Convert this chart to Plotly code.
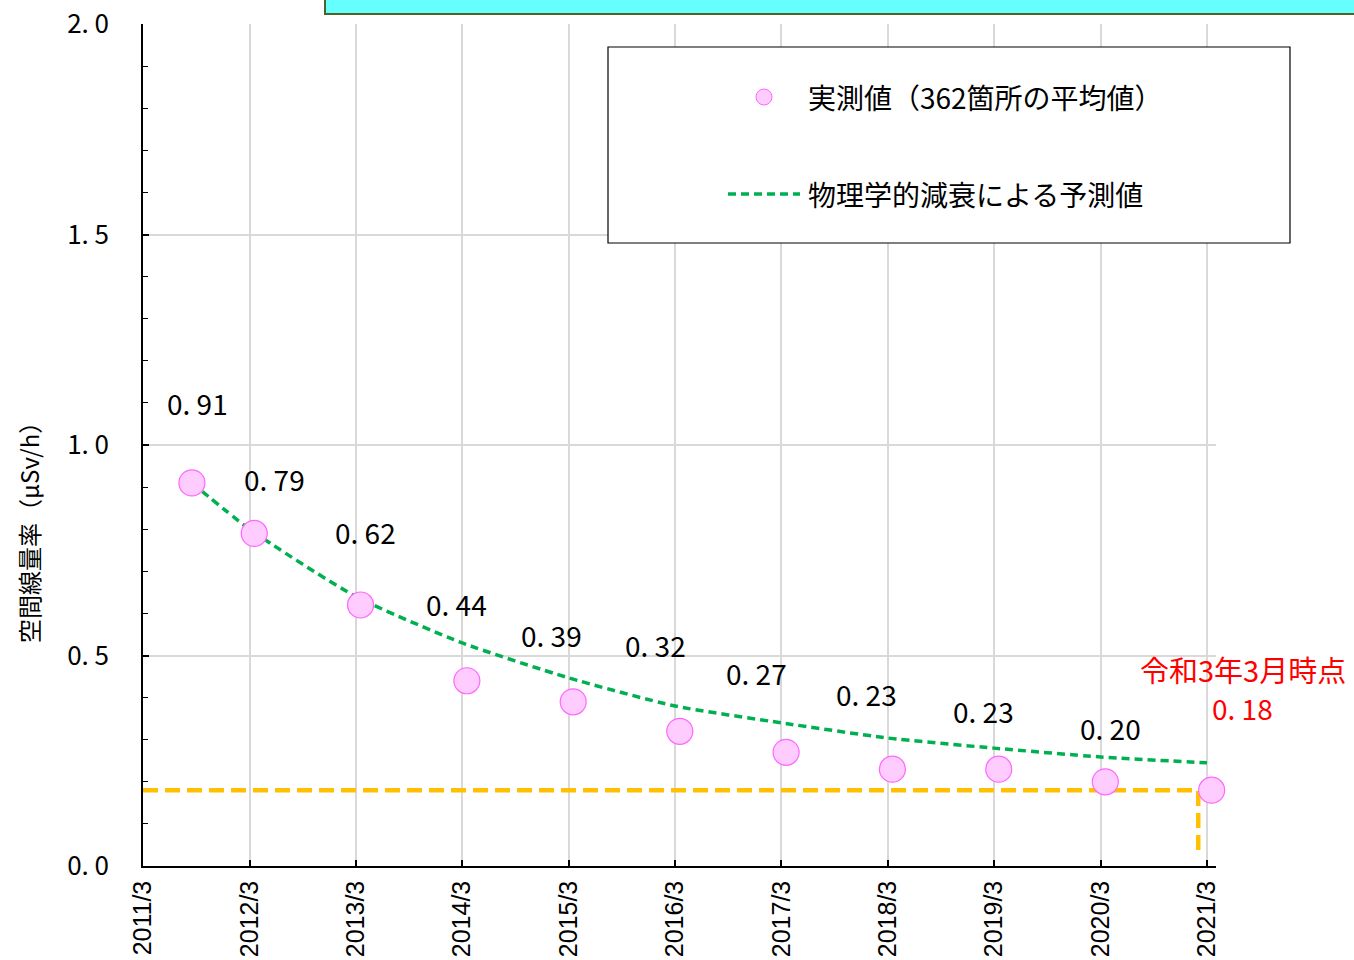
import plotly.graph_objects as go

# ---------------- data ----------------
tick_dates = ["2011-03-01", "2012-03-01", "2013-03-01", "2014-03-01", "2015-03-01",
              "2016-03-01", "2017-03-01", "2018-03-01", "2019-03-01", "2020-03-01",
              "2021-03-01"]
tick_labels = ["2011/3", "2012/3", "2013/3", "2014/3", "2015/3", "2016/3",
               "2017/3", "2018/3", "2019/3", "2020/3", "2021/3"]

# measured values (average of 362 points)
meas_dates = ["2011-08-16", "2012-03-17", "2013-03-17", "2014-03-17", "2015-03-17",
              "2016-03-17", "2017-03-17", "2018-03-17", "2019-03-17", "2020-03-17",
              "2021-03-17"]
meas_values = [0.91, 0.79, 0.62, 0.44, 0.39, 0.32, 0.27, 0.23, 0.23, 0.20, 0.18]

# prediction by physical decay
pred_dates = ["2011-08-16", "2012-03-01", "2013-03-01", "2014-03-01", "2015-03-01",
              "2016-03-01", "2017-03-01", "2018-03-01", "2019-03-01", "2020-03-01",
              "2021-03-01"]
pred_values = [0.91, 0.80, 0.64, 0.53, 0.447, 0.38, 0.34, 0.304, 0.28, 0.259, 0.245]

# reference guide for the latest value
guide_x = ["2011-03-01", "2021-01-30", "2021-01-30"]
guide_y = [0.18, 0.18, 0.035]

legend_meas = "実測値（362箇所の平均値）"
legend_pred = "物理学的減衰による予測値"
latest_caption = "令和3年3月時点"
y_title = "空間線量率（μSv/h）"

# label offsets (pixels) for each measured value label
label_dx = [6, 20, 5, -10, -22, -24, -30, -26, -15, 5, 31]
label_dy = [80, 54, 73, 77, 67, 86, 79, 75, 58, 54, 82]

# ---------------- layout geometry ----------------
W, H = 1354, 960
L, R, T, B = 143, 1216, 24, 866


def px(xp):
    return (xp - L) / (R - L)


def py(yp):
    return (B - yp) / (B - T)


JP = "Noto Sans CJK JP"
GREEN = "#00B050"
ORANGE = "#FFC000"
PINK_FILL = "#FFCCFF"
PINK_LINE = "#FF66FF"

fig = go.Figure()

fig.add_trace(go.Scatter(
    x=guide_x, y=guide_y, mode="lines",
    line=dict(color=ORANGE, width=4.5, dash="15px,7px"),
    hoverinfo="skip", showlegend=False))

fig.add_trace(go.Scatter(
    x=pred_dates, y=pred_values, mode="lines", name=legend_pred,
    line=dict(color=GREEN, width=3.5, dash="8px,5px", shape="spline", smoothing=0.6),
    showlegend=False))

fig.add_trace(go.Scatter(
    x=meas_dates, y=meas_values, mode="markers", name=legend_meas, cliponaxis=False,
    marker=dict(size=26, color=PINK_FILL, line=dict(color=PINK_LINE, width=1.2)),
    showlegend=False))

annotations = []
for i, (d, v) in enumerate(zip(meas_dates, meas_values)):
    last = i == len(meas_values) - 1
    label = f"{int(v)}. {int(round(v * 100)) % 100:02d}"
    annotations.append(dict(
        x=d, y=v, xref="x", yref="y", text=label,
        showarrow=False, xshift=label_dx[i], yshift=label_dy[i],
        font=dict(family=JP, size=28, color="#FF0000" if last else "black")))
    if last:
        annotations.append(dict(
            x=d, y=v, xref="x", yref="y", text=latest_caption,
            showarrow=False, xshift=label_dx[i], yshift=label_dy[i] + 39,
            font=dict(family=JP, size=29, color="#FF0000")))

# y axis title
annotations.append(dict(
    x=px(28), y=py(527), xref="paper", yref="paper", text=y_title, textangle=-90,
    xanchor="center", yanchor="middle",
    showarrow=False, font=dict(family=JP, size=24, color="black")))

# legend texts
annotations.append(dict(
    x=px(806), y=py(97), xref="paper", yref="paper", text=legend_meas,
    xanchor="left", yanchor="middle", showarrow=False,
    font=dict(family=JP, size=28, color="black")))
annotations.append(dict(
    x=px(806), y=py(194), xref="paper", yref="paper", text=legend_pred,
    xanchor="left", yanchor="middle", showarrow=False,
    font=dict(family=JP, size=28, color="black")))

shapes = [
    # cyan title box (cut off at the top)
    dict(type="rect", xref="paper", yref="paper", x0=px(325), x1=px(1400),
         y0=py(14), y1=py(-40), fillcolor="#66FFFF",
         line=dict(color="#4F6228", width=2), layer="above"),
    # legend box
    dict(type="rect", xref="paper", yref="paper", x0=px(608), x1=px(1290),
         y0=py(243), y1=py(47), fillcolor="white",
         line=dict(color="black", width=1.2), layer="above"),
    # legend marker
    dict(type="circle", xref="paper", yref="paper", xsizemode="pixel", ysizemode="pixel",
         xanchor=px(764), yanchor=py(97), x0=-8, x1=8, y0=-8, y1=8,
         fillcolor=PINK_FILL, line=dict(color=PINK_LINE, width=1), layer="above"),
    # legend line
    dict(type="line", xref="paper", yref="paper", x0=px(728), x1=px(800),
         y0=py(194), y1=py(194), line=dict(color=GREEN, width=3.5, dash="8px,5px"),
         layer="above"),
]

fig.update_layout(
    width=W, height=H,
    margin=dict(l=L, r=W - R, t=T, b=H - B, pad=0, autoexpand=False),
    paper_bgcolor="white", plot_bgcolor="white",
    showlegend=False,
    annotations=annotations,
    shapes=shapes,
    xaxis=dict(
        type="date", range=["2011-03-01", "2021-04-01"], automargin=False,
        tickmode="array", tickvals=tick_dates, ticktext=tick_labels,
        tickangle=-90, ticks="inside", ticklen=6, tickcolor="black", tickwidth=1.5,
        ticklabelstandoff=3,
        tickfont=dict(family="Liberation Sans", size=25, color="black"),
        showgrid=True, gridcolor="#D9D9D9", gridwidth=1.8,
        showline=True, linecolor="black", linewidth=1.5, zeroline=False),
    yaxis=dict(
        range=[0, 2.0], tickmode="array", tickvals=[0, 0.5, 1.0, 1.5, 2.0],
        ticktext=["0. 0", "0. 5", "1. 0", "1. 5", "2. 0"], automargin=False,
        ticks="inside", ticklen=6, tickcolor="black", tickwidth=1.5,
        ticklabelstandoff=27,
        tickfont=dict(family=JP, size=26, color="black"),
        minor=dict(dtick=0.1, tick0=0, ticks="inside", ticklen=5, tickcolor="black",
                   tickwidth=1.2, showgrid=False),
        showgrid=True, gridcolor="#D9D9D9", gridwidth=1.8,
        showline=True, linecolor="black", linewidth=1.5, zeroline=False),
    font=dict(family=JP, color="black"),
)

fig.write_html("out.html", config={"displayModeBar": False},
               post_script="document.body.style.margin='0';")
